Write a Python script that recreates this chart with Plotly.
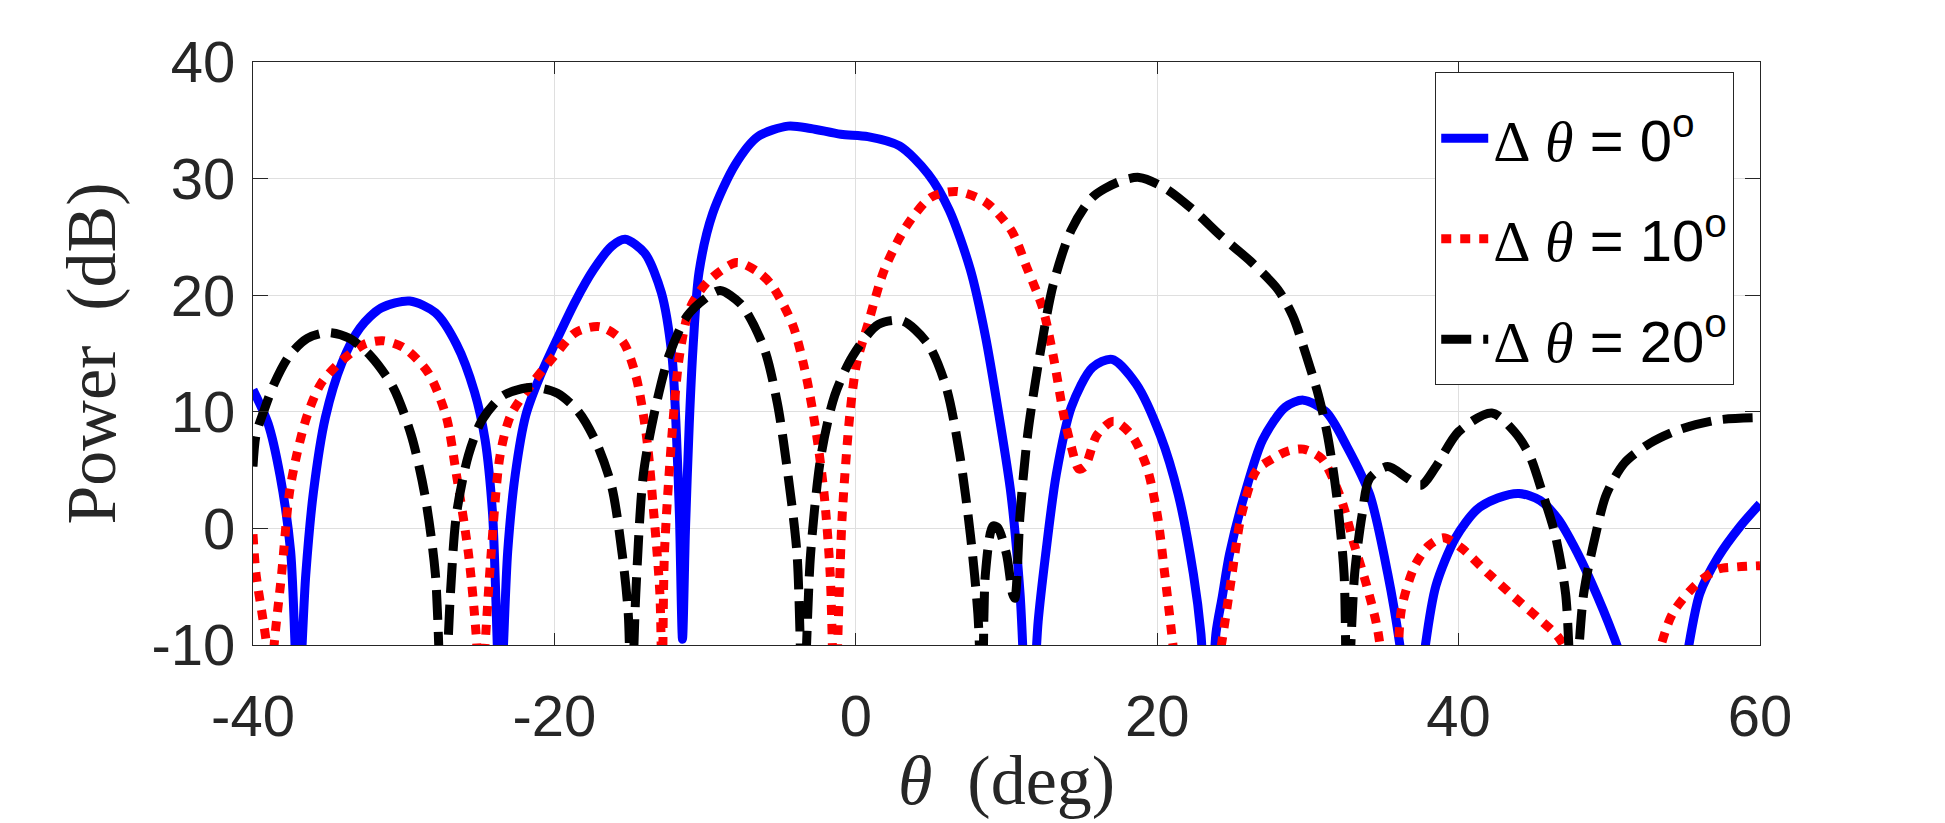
import plotly.graph_objects as go

# ---- data ----
theta_0 = [-40, -39, -38.2, -37.5, -37.0, -36.5, -36.0, -35.2, -34.1, -32.9, -31.5, -29.6, -27.9, -26.5,
           -25.3, -24.6, -24.1, -23.6, -23.1, -22.6, -21.9, -21.0, -19.8, -18.6, -17.4, -16.2, -15.3,
           -14.0, -12.9, -12.2, -11.9, -11.7, -11.5, -11.3, -11.05, -10.8, -10.4, -9.5, -8.0, -6.5,
           -4.5, -3.0, -1.0, 0.8, 2.9, 4.8, 6.2, 7.6, 8.6, 9.5, 10.3, 10.9, 11.5, 12.1, 12.6, 13.3,
           14.3, 15.7, 17.0, 18.6, 20.2, 21.4, 22.4, 22.9, 23.4, 23.9, 24.3, 24.8, 25.8, 27.0, 28.5,
           29.7, 31.2, 32.6, 34.1, 35.3, 36.1, 37.0, 37.8, 38.5, 39.8, 41.2, 42.6, 44.0, 45.4, 46.6,
           47.6, 48.8, 50.3, 51.0, 53.0, 55.0, 56.0, 57.2, 58.7, 60]
power_0 = [11.9, 9.0, 4.5, -2.0, -15, -4, 3, 9.5, 14.2, 17.2, 18.9, 19.5, 18.5, 15.8,
           11.7, 7.6, 1.2, -15, -2, 4.6, 9.7, 12.9, 16.3, 19.5, 22.2, 24.2, 24.8,
           23.6, 20.2, 14.8, 8.0, 1.0, -9.5, 0, 9, 15.5, 22, 27, 31.2, 33.6,
           34.5, 34.3, 33.8, 33.6, 32.8, 30.4, 27.3, 22.2, 16.5, 9.7, 2.9, -5.6, -20, -8, -2.2, 4.6,
           10.4, 13.8, 14.5, 12.4, 8.0, 2.9, -3.9, -9, -20, -9, -6, -2.2, 2.9, 7.6, 10.4,
           11.0, 10.0, 7.0, 2.9, -3.9, -10, -20, -10, -4.9, -0.8, 1.6, 2.6, 3.0, 2.4, 0.8,
           -1.4, -4.6, -9.3, -12, -25, -12, -5.6, -2.5, 0.2, 2.1]

theta_10 = [-40, -39.8, -39.4, -39.1, -38.9, -38.6, -38.1, -37.6, -37.1, -36.4, -35.5, -34.1, -32.6,
            -31.4, -30.0, -28.4, -27.2, -26.5, -25.7, -25.2, -24.9, -24.6, -24.2, -23.6, -22.9, -21.5,
            -20.0, -18.6, -17.0, -15.5, -14.6, -13.9, -13.4, -13.0, -12.85, -12.7, -12.2, -11.7, -11.0,
            -9.8, -7.9, -6.5, -5.6, -4.2, -3.3, -2.6, -2.1, -1.7, -1.4, -1.1, -0.9, -0.4, 0.05, 0.8,
            1.9, 3.4, 5.0, 6.7, 8.6, 10.3, 11.4, 12.4, 13.1, 13.8, 14.3, 14.8, 15.2, 16.0, 17.1, 18.3,
            19.3, 20.0, 20.5, 20.9, 21.1, 22.7, 24.2, 24.9, 25.6, 26.6, 27.7, 28.6, 29.7, 30.9, 32.1,
            33.1, 33.9, 34.6, 35.7, 36.2, 37.1, 38.0, 39.0, 40.2, 42.0, 43.7, 45.2, 46.6, 47.3, 50.2,
            53.2, 54.2, 55.7, 57.2, 58.5, 60]
power_10 = [-0.5, -3.9, -7.3, -10, -16, -10, -3.9, 2.9, 6.3, 9.7, 12.4, 14.4, 15.8,
            16.1, 15.5, 13.4, 9.7, 4.6, -2.2, -9, -16, -10, -2.2, 6.3, 9.7, 12.4,
            14.8, 16.8, 17.3, 16.1, 13.1, 8.0, 1.2, -5.6, -14, -2.2, 8.0, 14.8, 18.9,
            21.2, 22.8, 22.0, 20.9, 17.5, 13.1, 8.0, 2.9, -3.9, -16, -5.6, 1.2, 9.7, 14.1, 17.5,
            22.2, 26.0, 28.4, 28.9, 28.0, 25.6, 22.2, 18.9, 14.8, 9.7, 7.0, 5.1, 5.3, 8.0, 9.2, 8.0,
            5.3, 1.2, -3.9, -8.3, -10.5, -22, -10.5, -4.5, 1.2, 5.0, 6.0, 6.6, 6.8, 6.0, 2.9,
            -1.5, -4.9, -8.5, -18, -7, -3.2, -1.5, -0.8, -1.7, -3.9, -5.9, -7.6, -9.3, -11, -25,
            -11, -7.3, -4.9, -3.5, -3.3, -3.2]

theta_20 = [-40, -39.8, -39.3, -38.6, -37.6, -36.4, -35.0, -33.6, -32.2, -30.7, -29.5, -28.6, -27.9,
            -27.4, -26.9, -26.5, -25.7, -24.8, -23.4, -21.5, -19.8, -18.4, -17.2, -16.2, -15.5, -15.1,
            -14.9, -14.6, -14.1, -13.4, -12.4, -11.2, -9.8, -9.0, -7.6, -6.1, -5.2, -4.5, -3.9, -3.5,
            -3.0, -2.3, -1.4, -0.2, 1.5, 3.1, 4.8, 6.0, 6.9, 7.6, 8.1, 8.4, 8.6, 9.1, 9.4, 10.0, 10.4,
            10.55, 10.9, 11.4, 12.2, 13.1, 14.3, 15.7, 17.4, 18.8, 20.5, 22.4, 24.3, 26.2, 28.0, 29.0,
            29.9, 30.7, 31.3, 31.9, 32.4, 32.6, 33.1, 33.6, 34.1, 35.3, 36.6, 37.5, 38.5, 40.0, 42.2,
            43.7, 44.7, 45.6, 46.4, 47.1, 47.6, 48.3, 49.1, 49.8, 51.0, 52.7, 54.7, 57.2, 60]
power_20 = [5.3, 8.0, 10.0, 12.4, 14.8, 16.3, 16.8, 16.3, 14.8, 12.1, 8.0, 2.9, -3.9,
            -18, -5.6, 1.2, 6.3, 9.3, 11.4, 12.1, 11.6, 10.0, 7.3, 3.6, -2.2, -7.3,
            -16, -5.6, 4.6, 9.7, 14.8, 18.2, 19.9, 20.4, 19.2, 15.5, 10.7, 4.6, -2.2, -16,
            -2.2, 6.3, 11.4, 14.8, 17.5, 17.8, 15.8, 12.1, 6.3, -0.5, -7.3, -16, -3.9, 0.2, 0.1, -2.2, -5.6,
            -6, 1.2, 8.0, 14.8, 20.9, 25.6, 28.4, 29.7, 30.1, 29.2, 27.3, 25.0, 22.9, 20.5, 18.2,
            14.8, 11.4, 8.0, 2.9, -3.9, -16, -3.9, 1.2, 4.3, 5.3, 4.3, 3.7, 5.3, 8.3, 9.9,
            8.3, 6.3, 2.9, -0.5, -5.6, -16, -5.6, -0.5, 2.9, 5.6, 7.3, 8.5, 9.3, 9.5]

series_names = ["Δ θ = 0°", "Δ θ = 10°", "Δ θ = 20°"]
legend_labels = [
    "<span style='font-family:\"Liberation Serif\"'>Δ\u00a0<i>θ</i></span> = 0<sup>o</sup>",
    "<span style='font-family:\"Liberation Serif\"'>Δ\u00a0<i>θ</i></span> = 10<sup>o</sup>",
    "<span style='font-family:\"Liberation Serif\"'>Δ\u00a0<i>θ</i></span> = 20<sup>o</sup>",
]
x_ticks = [-40, -20, 0, 20, 40, 60]
y_ticks = [-10, 0, 10, 20, 30, 40]

# ---- figure ----
fig = go.Figure()
styles = [
    dict(color="#0000ff", width=9, dash="solid"),
    dict(color="#ff0000", width=9, dash="10px,9px"),
    dict(color="#000000", width=9, dash="30px,12px"),
]
data = [(theta_0, power_0), (theta_10, power_10), (theta_20, power_20)]
for i, ((xs, ys), st, lab) in enumerate(zip(data, styles, legend_labels)):
    fig.add_trace(go.Scatter(
        x=xs, y=ys, mode="lines", name=lab, legendgroup=f"g{i}",
        line=dict(color=st["color"], width=st["width"], dash=st["dash"], shape="spline", smoothing=0.8),
        hoverinfo="skip",
    ))

tick_font = dict(family="Liberation Sans, Arial", size=58, color="#262626")
title_font = dict(family="Liberation Serif, serif", size=70, color="#262626")

fig.update_layout(
    width=1945, height=823,
    margin=dict(l=253, r=185, t=62, b=178),
    paper_bgcolor="white", plot_bgcolor="white",
    showlegend=True,
    legend=dict(
        x=0.9827, y=0.9828, xanchor="right", yanchor="top",
        bgcolor="white", bordercolor="#262626", borderwidth=1.3,
        font=dict(family="Liberation Sans, Arial", size=58, color="black"),
        tracegroupgap=22, itemwidth=47,
        title=dict(text="\u00a0", font=dict(size=16)),
    ),
    xaxis=dict(
        range=[-40, 60], tickmode="array", tickvals=x_ticks, ticktext=[str(v) for v in x_ticks],
        showgrid=True, gridcolor="#dfdfdf", gridwidth=1,
        showline=True, linecolor="#262626", linewidth=1.3, mirror="ticks",
        ticks="inside", ticklen=12, tickcolor="#262626", tickwidth=1.3,
        tickfont=tick_font, ticklabelstandoff=20, zeroline=False,
        title=dict(text="<i>θ</i>\u00a0\u00a0(deg)", font=title_font, standoff=8),
    ),
    yaxis=dict(
        range=[-10, 40], tickmode="array", tickvals=y_ticks, ticktext=[str(v) for v in y_ticks],
        showgrid=True, gridcolor="#dfdfdf", gridwidth=1,
        showline=True, linecolor="#262626", linewidth=1.3, mirror="ticks",
        ticks="inside", ticklen=15, tickcolor="#262626", tickwidth=1.3,
        tickfont=tick_font, ticklabelstandoff=5, zeroline=False,
        title=dict(text="Power\u00a0\u00a0(dB)", font=title_font, standoff=12),
    ),
)

fig.write_html("out.html")
